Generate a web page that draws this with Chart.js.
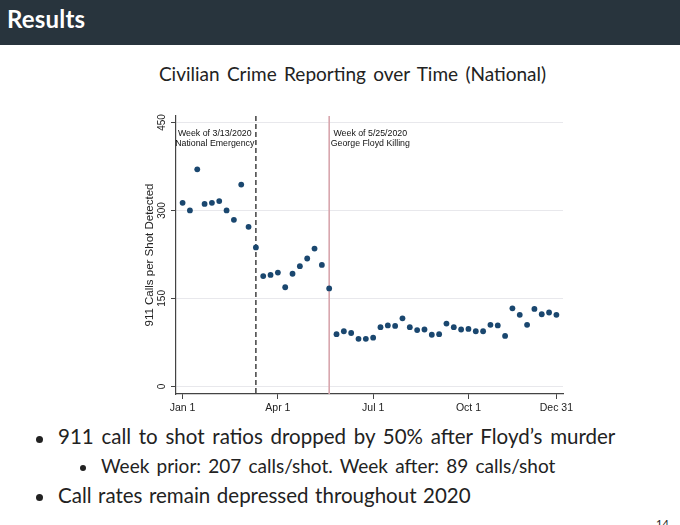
<!DOCTYPE html>
<html>
<head>
<meta charset="utf-8">
<script src="https://cdn.jsdelivr.net/npm/chart.js@4.4.1/dist/chart.umd.min.js"></script>
<style>
  html, body { margin:0; padding:0; background:#fff; width:680px; height:525px; overflow:hidden; font-family: Lato, "Open Sans", sans-serif; }
  #hdr { position:absolute; left:0; top:0; width:680px; height:45px; background:#28343d; }
  #hdr span { position:absolute; left:7px; top:4px; color:#fff; font: bold 24px Lato, sans-serif; letter-spacing:0.2px; }
  #title { position:absolute; left:0; width:705px; top:62px; text-align:center; font: 19px Lato, sans-serif; color:#222; word-spacing:2.5px; }
  .txt { position:absolute; color:#222; white-space:nowrap; }
  .dot { position:absolute; border-radius:50%; background:#222; }
  #c { position:absolute; left:0; top:0; z-index:2; }
</style>
</head>
<body>
<div id="hdr"><span>Results</span></div>
<div id="title">Civilian Crime Reporting over Time (National)</div>
<div class="dot" style="left:36px;top:436px;width:7px;height:7px;"></div>
<div class="txt" style="left:58px;top:424px;font-size:20.5px;word-spacing:2.5px;">911 call to shot ratios dropped by 50% after Floyd’s murder</div>
<div class="dot" style="left:80px;top:465px;width:6px;height:6px;"></div>
<div class="txt" style="left:101px;top:454px;font-size:19px;word-spacing:2.3px;">Week prior: 207 calls/shot. Week after: 89 calls/shot</div>
<div class="dot" style="left:36px;top:494px;width:7px;height:7px;"></div>
<div class="txt" style="left:58px;top:483px;font-size:20.5px;word-spacing:1.3px;">Call rates remain depressed throughout 2020</div>
<div class="txt" style="left:656px;top:517px;font-size:11px;">14</div>
<canvas id="c" width="680" height="525"></canvas>
<script>
// Weekly ratio of 911 calls per shot detected, 2020 (week 0 = Jan 1)
const callsPerShot = [313, 300, 370, 311, 313, 316, 300, 284, 344, 272, 237,
  188, 190, 194, 169, 192, 205, 218, 235, 207, 167,
  89, 94, 91, 81, 81, 83, 101, 104, 103, 116, 101, 96, 97, 88, 89, 107,
  101, 97, 98, 94, 94, 105, 104, 86, 133, 122, 105, 132, 123, 126, 122];
const weekIndex = callsPerShot.map((v, i) => i);
const xTickWeeks = [0, 13, 26, 39, 51];
const xTickLabels = ["Jan 1", "Apr 1", "Jul 1", "Oct 1", "Dec 31"];
const yTickValues = [0, 150, 300, 450];
const eventWeeks = [10, 20];
const eventLabels = [["Week of 3/13/2020", "National Emergency"], ["Week of 5/25/2020", "George Floyd Killing"]];
const yTitle = "911 Calls per Shot Detected";

const points = weekIndex.map((w, i) => ({ x: w, y: callsPerShot[i] }));

const eventPlugin = {
  id: 'events',
  beforeDatasetsDraw(chart) {
    const { ctx, chartArea, scales } = chart;
    ctx.save();
    eventWeeks.forEach((w, k) => {
      const px = scales.x.getPixelForValue(w);
      ctx.beginPath();
      if (k === 0) { ctx.setLineDash([5, 3]); ctx.strokeStyle = '#333'; ctx.lineWidth = 1.4; }
      else { ctx.setLineDash([]); ctx.strokeStyle = '#d8a6ad'; ctx.lineWidth = 1.6; }
      ctx.moveTo(px, chartArea.top);
      ctx.lineTo(px, chartArea.bottom);
      ctx.stroke();
      ctx.setLineDash([]);
      ctx.font = '8.8px "Liberation Sans", Arial, sans-serif';
      ctx.fillStyle = '#111';
      ctx.textAlign = 'center';
      ctx.textBaseline = 'middle';
      const lines = eventLabels[k];
      const wMax = Math.max(...lines.map(l => ctx.measureText(l).width));
      const cx = k === 0 ? px - 1.5 - wMax / 2 : px + 1.5 + wMax / 2;
      lines.forEach((l, j) => ctx.fillText(l, cx, chartArea.top + 18 + j * 9.6));
    });
    ctx.restore();
  },
  afterDraw(chart) {
    const { ctx, scales } = chart;
    const y = scales.y;
    ctx.save();
    ctx.font = '10px "Liberation Sans", Arial, sans-serif';
    ctx.fillStyle = '#222';
    ctx.textAlign = 'center';
    ctx.textBaseline = 'middle';
    y.ticks.forEach(t => {
      const py = y.getPixelForValue(t.value);
      ctx.save();
      ctx.translate(162, py);
      ctx.rotate(-Math.PI / 2);
      ctx.fillText(String(t.value), 0, 0);
      ctx.restore();
    });
    ctx.restore();
  }
};

new Chart(document.getElementById('c'), {
  type: 'scatter',
  data: {
    datasets: [{
      data: points,
      backgroundColor: '#1a476f',
      borderColor: '#1a476f',
      pointRadius: 2.9,
      pointBorderWidth: 0,
      showLine: false
    }]
  },
  options: {
    responsive: false,
    animation: false,
    events: [],
    layout: { padding: { left: 143, right: 117, top: 116, bottom: 101 } },
    plugins: { legend: { display: false }, tooltip: { enabled: false } },
    scales: {
      x: {
        type: 'linear',
        min: -0.9,
        max: 51.9,
        afterBuildTicks: s => { s.ticks = xTickWeeks.map(v => ({ value: v })); },
        afterFit: s => { s.height = 30; },
        ticks: {
          callback: v => xTickLabels[xTickWeeks.indexOf(v)],
          font: { family: '"Liberation Sans", Arial, sans-serif', size: 10.5 },
          color: '#222',
          padding: 3,
          maxRotation: 0
        },
        grid: { drawOnChartArea: false, tickLength: 5, tickColor: '#444' },
        border: { color: '#444', width: 1.2 }
      },
      y: {
        type: 'linear',
        min: -13,
        max: 461,
        afterBuildTicks: s => { s.ticks = yTickValues.map(v => ({ value: v })); },
        afterFit: s => { s.width = 33; },
        ticks: { display: false },
        title: {
          display: true,
          text: yTitle,
          font: { family: '"Liberation Sans", Arial, sans-serif', size: 11.5 },
          color: '#222',
          padding: 0
        },
        grid: { color: '#e8e8ec', lineWidth: 1, tickLength: 5, tickColor: '#444' },
        border: { color: '#444', width: 1.2 }
      }
    }
  },
  plugins: [eventPlugin]
});
</script>
</body>
</html>
